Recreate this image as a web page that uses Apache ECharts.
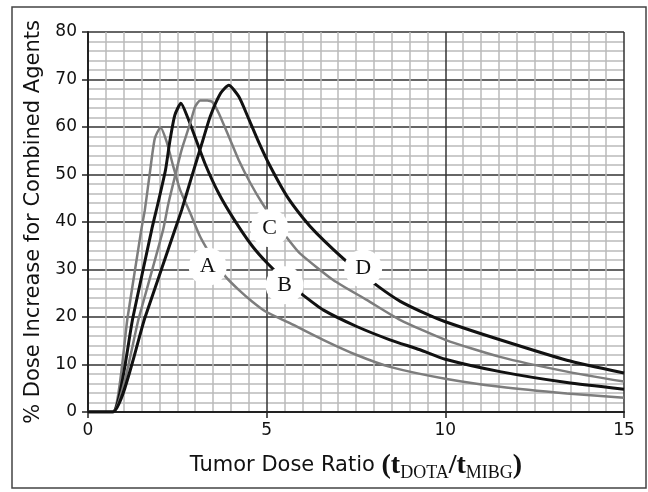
<!DOCTYPE html>
<html>
<head>
<meta charset="utf-8">
<script src="https://cdn.jsdelivr.net/npm/echarts@6/dist/echarts.min.js"></script>
<style>
  html, body { margin: 0; padding: 0; background: #fff; }
</style>
</head>
<body>
<div id="main" style="width:648px;height:492px;"></div>
<script>
// curve A (gray)
var aX = [0, 0.69, 1.11, 1.49, 1.59, 1.73, 1.87, 2.03, 2.2, 2.39, 2.58, 2.86, 3.14, 3.49, 3.85, 4.22, 4.6, 4.98, 5.65, 6.58, 7.52, 8.45, 10, 11.53, 13.4, 15];
var aY = [0, 0, 20, 38.3, 42.5, 50.3, 57.6, 59.9, 56.9, 51.6, 46.7, 41.9, 36.9, 32.4, 28.5, 25.7, 23.2, 21.1, 18.7, 15.2, 12.0, 9.5, 7.0, 5.3, 3.9, 3.0];
// curve B (black)
var bX = [0, 0.69, 1.26, 1.78, 1.96, 2.17, 2.29, 2.43, 2.6, 2.79, 2.99, 3.29, 3.66, 4.09, 4.59, 5.02, 5.5, 6.02, 6.58, 7.52, 8.45, 9.29, 10, 11.53, 13.4, 15];
var bY = [0, 0, 20, 38.3, 44, 51, 57, 62.5, 65, 62, 58, 52, 46, 40.5, 35, 31.3, 27.8, 24.6, 21.5, 18, 15.2, 13.1, 11.1, 8.5, 6.2, 4.8];
// curve C (gray)
var cX = [0, 0.69, 1.43, 2.1, 2.25, 2.43, 2.62, 2.86, 3.0, 3.14, 3.34, 3.49, 3.66, 3.94, 4.22, 4.55, 4.88, 5.28, 5.65, 5.93, 6.86, 7.8, 8.73, 10, 11.53, 13.4, 15];
var cY = [0, 0, 20, 38.3, 43.9, 49.5, 55.2, 60.8, 64.3, 65.6, 65.6, 65.2, 62.9, 58, 53, 48.1, 43.9, 39.6, 35.9, 33.4, 27.8, 23.6, 19.4, 15.2, 11.6, 8.5, 6.4];
// curve D (black)
var dX = [0, 0.69, 1.6, 2.43, 2.62, 2.9, 3.19, 3.42, 3.71, 3.94, 4.22, 4.51, 4.79, 5.08, 5.56, 6.0, 6.4, 7.25, 8.13, 8.74, 9.48, 10, 11.53, 13.4, 15];
var dY = [0, 0, 20, 38.3, 42.5, 49.5, 56.6, 62.2, 67.1, 68.8, 66.4, 61.5, 56.6, 52, 45.5, 41, 37.6, 31.6, 26.4, 23.3, 20.6, 19.0, 15.2, 10.9, 8.2];

// curve labels
var labelNames = ['A', 'B', 'C', 'D'];
var labelX = [3.35, 5.5, 5.08, 7.7];
var labelY = [30.6, 26.7, 38.7, 30.2];

function zip(xs, ys) {
  return xs.map(function (x, i) { return [x, ys[i]]; });
}

var sans = 'DejaVu Sans';
var serif = 'Liberation Serif';

function curve(name, xs, ys, color, width) {
  return {
    name: name,
    type: 'line',
    data: zip(xs, ys),
    symbol: 'none',
    smooth: 0.2,
    lineStyle: { color: color, width: width },
    z: 3
  };
}

var myChart = echarts.init(document.getElementById('main'));
myChart.setOption({
  animation: false,
  backgroundColor: '#fff',
  graphic: [{
    type: 'rect',
    shape: { x: 12, y: 7, width: 634, height: 481 },
    style: { fill: 'none', stroke: '#444', lineWidth: 1.5 },
    silent: true
  }],
  grid: { left: 88, right: 24, top: 32, bottom: 80 },
  xAxis: {
    type: 'value',
    min: 0, max: 15, interval: 5,
    name: '{a|Tumor Dose Ratio }{b|(t}{s|DOTA}{b|/t}{s|MIBG}{b|)}',
    nameLocation: 'middle',
    nameGap: 37,
    nameTextStyle: {
      rich: {
        a: { fontFamily: sans, fontSize: 21, color: '#111' },
        b: { fontFamily: serif, fontSize: 28, fontWeight: 'bold', color: '#111' },
        s: { fontFamily: serif, fontSize: 18, color: '#111', padding: [15, 0, 0, 0] }
      }
    },
    axisLine: { lineStyle: { color: '#222', width: 2 } },
    axisTick: { show: true, length: 6, lineStyle: { color: '#222', width: 1.5 } },
    axisLabel: { fontFamily: sans, fontSize: 17, color: '#111', margin: 10 },
    splitLine: { show: true, lineStyle: { color: '#333', width: 1.5 } },
    minorTick: { show: false, splitNumber: 10 },
    minorSplitLine: { show: true, lineStyle: { color: '#bbb', width: 1.5 } }
  },
  yAxis: {
    type: 'value',
    min: 0, max: 80, interval: 10,
    name: '% Dose Increase for Combined Agents',
    nameLocation: 'middle',
    nameGap: 38,
    nameTextStyle: { fontFamily: sans, fontSize: 21, color: '#111' },
    axisLine: { show: true, lineStyle: { color: '#222', width: 2 } },
    axisTick: { show: true, length: 6, lineStyle: { color: '#222', width: 1.5 } },
    axisLabel: { fontFamily: sans, fontSize: 17, color: '#111', margin: 11 },
    splitLine: { show: true, lineStyle: { color: '#333', width: 1.5 } },
    minorTick: { show: false, splitNumber: 5 },
    minorSplitLine: { show: true, lineStyle: { color: '#bbb', width: 1.5 } }
  },
  series: [
    curve('A', aX, aY, '#7d7d7d', 2.5),
    curve('B', bX, bY, '#111', 3),
    curve('C', cX, cY, '#7d7d7d', 2.5),
    curve('D', dX, dY, '#111', 3),
    {
      name: 'labels',
      type: 'scatter',
      data: labelNames.map(function (n, i) { return { name: n, value: [labelX[i], labelY[i]] }; }),
      symbol: 'circle',
      symbolSize: 38,
      itemStyle: { color: '#fff', opacity: 1 },
      label: {
        show: true, position: 'inside', formatter: '{b}',
        fontFamily: serif, fontSize: 22, color: '#111'
      },
      z: 10
    }
  ]
});
</script>
</body>
</html>
